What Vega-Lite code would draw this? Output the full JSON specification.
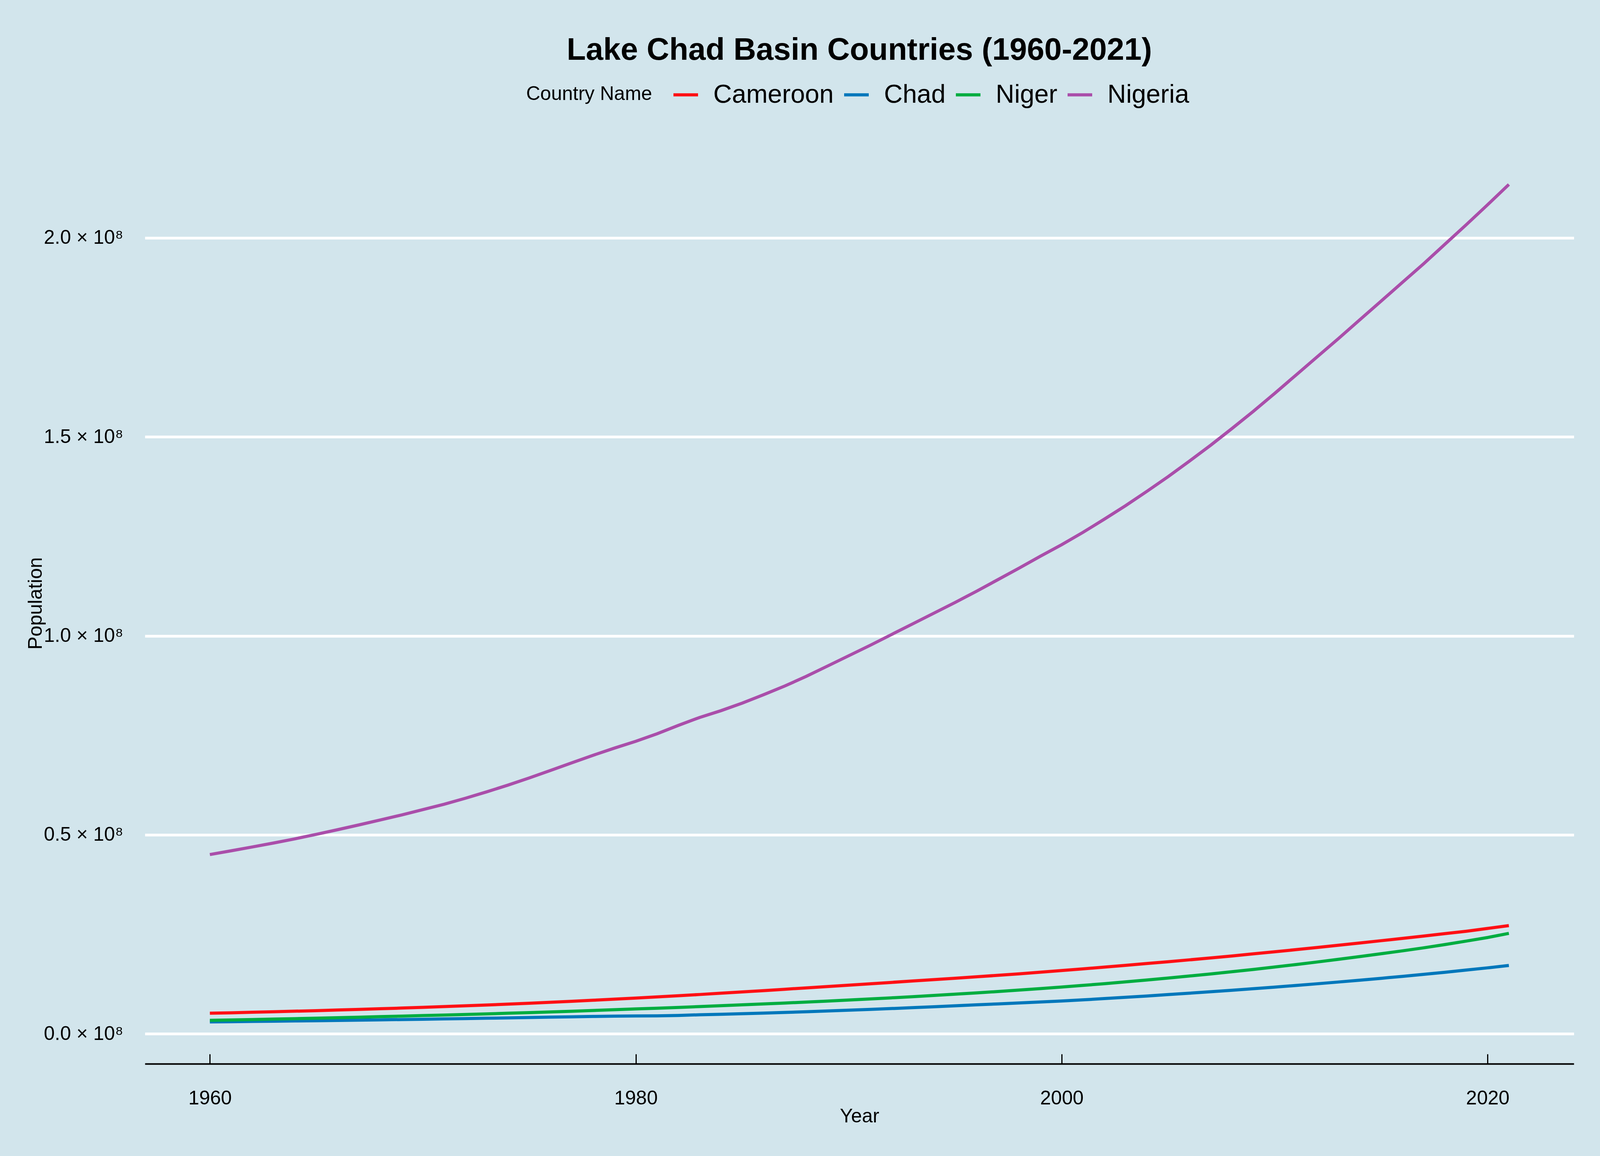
{
  "$schema": "https://vega.github.io/schema/vega-lite/v6.json",
  "width": 3658,
  "height": 2358,
  "autosize": {"type": "none"},
  "padding": {"left": 371, "top": 365, "right": 67, "bottom": 236},
  "background": "#d2e5ec",
  "config": {"view": {"stroke": null}, "font": "Liberation Sans"},
  "title": {"text": "Lake Chad Basin Countries (1960-2021)", "fontSize": 80, "fontWeight": "bold", "font": "Liberation Sans", "color": "black", "anchor": "middle", "frame": "group", "offset": 37},
  "data": {"values": [
{"Year":1960,"Country":"Cameroon","Population":5180000},{"Year":1961,"Country":"Cameroon","Population":5300000},{"Year":1962,"Country":"Cameroon","Population":5430000},{"Year":1963,"Country":"Cameroon","Population":5560000},{"Year":1964,"Country":"Cameroon","Population":5700000},{"Year":1965,"Country":"Cameroon","Population":5840000},{"Year":1966,"Country":"Cameroon","Population":5990000},{"Year":1967,"Country":"Cameroon","Population":6150000},{"Year":1968,"Country":"Cameroon","Population":6310000},{"Year":1969,"Country":"Cameroon","Population":6480000},
{"Year":1970,"Country":"Cameroon","Population":6660000},{"Year":1971,"Country":"Cameroon","Population":6850000},{"Year":1972,"Country":"Cameroon","Population":7050000},{"Year":1973,"Country":"Cameroon","Population":7260000},{"Year":1974,"Country":"Cameroon","Population":7470000},{"Year":1975,"Country":"Cameroon","Population":7700000},{"Year":1976,"Country":"Cameroon","Population":7940000},{"Year":1977,"Country":"Cameroon","Population":8190000},{"Year":1978,"Country":"Cameroon","Population":8450000},{"Year":1979,"Country":"Cameroon","Population":8720000},
{"Year":1980,"Country":"Cameroon","Population":8990000},{"Year":1981,"Country":"Cameroon","Population":9280000},{"Year":1982,"Country":"Cameroon","Population":9580000},{"Year":1983,"Country":"Cameroon","Population":9890000},{"Year":1984,"Country":"Cameroon","Population":10210000},{"Year":1985,"Country":"Cameroon","Population":10540000},{"Year":1986,"Country":"Cameroon","Population":10870000},{"Year":1987,"Country":"Cameroon","Population":11210000},{"Year":1988,"Country":"Cameroon","Population":11550000},{"Year":1989,"Country":"Cameroon","Population":11890000},
{"Year":1990,"Country":"Cameroon","Population":12240000},{"Year":1991,"Country":"Cameroon","Population":12580000},{"Year":1992,"Country":"Cameroon","Population":12930000},{"Year":1993,"Country":"Cameroon","Population":13280000},{"Year":1994,"Country":"Cameroon","Population":13630000},{"Year":1995,"Country":"Cameroon","Population":13980000},{"Year":1996,"Country":"Cameroon","Population":14340000},{"Year":1997,"Country":"Cameroon","Population":14710000},{"Year":1998,"Country":"Cameroon","Population":15090000},{"Year":1999,"Country":"Cameroon","Population":15490000},
{"Year":2000,"Country":"Cameroon","Population":15910000},{"Year":2001,"Country":"Cameroon","Population":16330000},{"Year":2002,"Country":"Cameroon","Population":16770000},{"Year":2003,"Country":"Cameroon","Population":17220000},{"Year":2004,"Country":"Cameroon","Population":17670000},{"Year":2005,"Country":"Cameroon","Population":18130000},{"Year":2006,"Country":"Cameroon","Population":18600000},{"Year":2007,"Country":"Cameroon","Population":19080000},{"Year":2008,"Country":"Cameroon","Population":19580000},{"Year":2009,"Country":"Cameroon","Population":20100000},
{"Year":2010,"Country":"Cameroon","Population":20620000},{"Year":2011,"Country":"Cameroon","Population":21160000},{"Year":2012,"Country":"Cameroon","Population":21710000},{"Year":2013,"Country":"Cameroon","Population":22270000},{"Year":2014,"Country":"Cameroon","Population":22840000},{"Year":2015,"Country":"Cameroon","Population":23410000},{"Year":2016,"Country":"Cameroon","Population":23980000},{"Year":2017,"Country":"Cameroon","Population":24570000},{"Year":2018,"Country":"Cameroon","Population":25180000},{"Year":2019,"Country":"Cameroon","Population":25780000},
{"Year":2020,"Country":"Cameroon","Population":26490000},{"Year":2021,"Country":"Cameroon","Population":27200000},
{"Year":1960,"Country":"Chad","Population":3000000},{"Year":1961,"Country":"Chad","Population":3060000},{"Year":1962,"Country":"Chad","Population":3120000},{"Year":1963,"Country":"Chad","Population":3180000},{"Year":1964,"Country":"Chad","Population":3250000},{"Year":1965,"Country":"Chad","Population":3310000},{"Year":1966,"Country":"Chad","Population":3380000},{"Year":1967,"Country":"Chad","Population":3450000},{"Year":1968,"Country":"Chad","Population":3520000},{"Year":1969,"Country":"Chad","Population":3600000},
{"Year":1970,"Country":"Chad","Population":3680000},{"Year":1971,"Country":"Chad","Population":3760000},{"Year":1972,"Country":"Chad","Population":3840000},{"Year":1973,"Country":"Chad","Population":3930000},{"Year":1974,"Country":"Chad","Population":4020000},{"Year":1975,"Country":"Chad","Population":4110000},{"Year":1976,"Country":"Chad","Population":4200000},{"Year":1977,"Country":"Chad","Population":4290000},{"Year":1978,"Country":"Chad","Population":4380000},{"Year":1979,"Country":"Chad","Population":4460000},
{"Year":1980,"Country":"Chad","Population":4510000},{"Year":1981,"Country":"Chad","Population":4520000},{"Year":1982,"Country":"Chad","Population":4620000},{"Year":1983,"Country":"Chad","Population":4800000},{"Year":1984,"Country":"Chad","Population":4930000},{"Year":1985,"Country":"Chad","Population":5070000},{"Year":1986,"Country":"Chad","Population":5220000},{"Year":1987,"Country":"Chad","Population":5380000},{"Year":1988,"Country":"Chad","Population":5550000},{"Year":1989,"Country":"Chad","Population":5750000},
{"Year":1990,"Country":"Chad","Population":5960000},{"Year":1991,"Country":"Chad","Population":6150000},{"Year":1992,"Country":"Chad","Population":6360000},{"Year":1993,"Country":"Chad","Population":6590000},{"Year":1994,"Country":"Chad","Population":6820000},{"Year":1995,"Country":"Chad","Population":7050000},{"Year":1996,"Country":"Chad","Population":7290000},{"Year":1997,"Country":"Chad","Population":7530000},{"Year":1998,"Country":"Chad","Population":7770000},{"Year":1999,"Country":"Chad","Population":8010000},
{"Year":2000,"Country":"Chad","Population":8260000},{"Year":2001,"Country":"Chad","Population":8550000},{"Year":2002,"Country":"Chad","Population":8860000},{"Year":2003,"Country":"Chad","Population":9180000},{"Year":2004,"Country":"Chad","Population":9520000},{"Year":2005,"Country":"Chad","Population":9870000},{"Year":2006,"Country":"Chad","Population":10220000},{"Year":2007,"Country":"Chad","Population":10580000},{"Year":2008,"Country":"Chad","Population":10960000},{"Year":2009,"Country":"Chad","Population":11350000},
{"Year":2010,"Country":"Chad","Population":11750000},{"Year":2011,"Country":"Chad","Population":12160000},{"Year":2012,"Country":"Chad","Population":12590000},{"Year":2013,"Country":"Chad","Population":13030000},{"Year":2014,"Country":"Chad","Population":13490000},{"Year":2015,"Country":"Chad","Population":13960000},{"Year":2016,"Country":"Chad","Population":14450000},{"Year":2017,"Country":"Chad","Population":14960000},{"Year":2018,"Country":"Chad","Population":15480000},{"Year":2019,"Country":"Chad","Population":16030000},
{"Year":2020,"Country":"Chad","Population":16590000},{"Year":2021,"Country":"Chad","Population":17180000},
{"Year":1960,"Country":"Niger","Population":3390000},{"Year":1961,"Country":"Niger","Population":3490000},{"Year":1962,"Country":"Niger","Population":3600000},{"Year":1963,"Country":"Niger","Population":3710000},{"Year":1964,"Country":"Niger","Population":3820000},{"Year":1965,"Country":"Niger","Population":3940000},{"Year":1966,"Country":"Niger","Population":4060000},{"Year":1967,"Country":"Niger","Population":4190000},{"Year":1968,"Country":"Niger","Population":4320000},{"Year":1969,"Country":"Niger","Population":4450000},
{"Year":1970,"Country":"Niger","Population":4590000},{"Year":1971,"Country":"Niger","Population":4730000},{"Year":1972,"Country":"Niger","Population":4870000},{"Year":1973,"Country":"Niger","Population":5020000},{"Year":1974,"Country":"Niger","Population":5180000},{"Year":1975,"Country":"Niger","Population":5340000},{"Year":1976,"Country":"Niger","Population":5510000},{"Year":1977,"Country":"Niger","Population":5690000},{"Year":1978,"Country":"Niger","Population":5880000},{"Year":1979,"Country":"Niger","Population":6070000},
{"Year":1980,"Country":"Niger","Population":6270000},{"Year":1981,"Country":"Niger","Population":6450000},{"Year":1982,"Country":"Niger","Population":6650000},{"Year":1983,"Country":"Niger","Population":6860000},{"Year":1984,"Country":"Niger","Population":7070000},{"Year":1985,"Country":"Niger","Population":7290000},{"Year":1986,"Country":"Niger","Population":7520000},{"Year":1987,"Country":"Niger","Population":7750000},{"Year":1988,"Country":"Niger","Population":7990000},{"Year":1989,"Country":"Niger","Population":8240000},
{"Year":1990,"Country":"Niger","Population":8500000},{"Year":1991,"Country":"Niger","Population":8770000},{"Year":1992,"Country":"Niger","Population":9050000},{"Year":1993,"Country":"Niger","Population":9340000},{"Year":1994,"Country":"Niger","Population":9650000},{"Year":1995,"Country":"Niger","Population":9970000},{"Year":1996,"Country":"Niger","Population":10300000},{"Year":1997,"Country":"Niger","Population":10640000},{"Year":1998,"Country":"Niger","Population":11000000},{"Year":1999,"Country":"Niger","Population":11380000},
{"Year":2000,"Country":"Niger","Population":11770000},{"Year":2001,"Country":"Niger","Population":12180000},{"Year":2002,"Country":"Niger","Population":12610000},{"Year":2003,"Country":"Niger","Population":13060000},{"Year":2004,"Country":"Niger","Population":13530000},{"Year":2005,"Country":"Niger","Population":14020000},{"Year":2006,"Country":"Niger","Population":14530000},{"Year":2007,"Country":"Niger","Population":15060000},{"Year":2008,"Country":"Niger","Population":15610000},{"Year":2009,"Country":"Niger","Population":16190000},
{"Year":2010,"Country":"Niger","Population":16790000},{"Year":2011,"Country":"Niger","Population":17410000},{"Year":2012,"Country":"Niger","Population":18060000},{"Year":2013,"Country":"Niger","Population":18730000},{"Year":2014,"Country":"Niger","Population":19420000},{"Year":2015,"Country":"Niger","Population":20130000},{"Year":2016,"Country":"Niger","Population":20860000},{"Year":2017,"Country":"Niger","Population":21620000},{"Year":2018,"Country":"Niger","Population":22440000},{"Year":2019,"Country":"Niger","Population":23310000},
{"Year":2020,"Country":"Niger","Population":24210000},{"Year":2021,"Country":"Niger","Population":25250000},
{"Year":1960,"Country":"Nigeria","Population":45050000},{"Year":1961,"Country":"Nigeria","Population":46000000},{"Year":1962,"Country":"Nigeria","Population":46960000},{"Year":1963,"Country":"Nigeria","Population":47960000},{"Year":1964,"Country":"Nigeria","Population":49010000},{"Year":1965,"Country":"Nigeria","Population":50130000},{"Year":1966,"Country":"Nigeria","Population":51300000},{"Year":1967,"Country":"Nigeria","Population":52500000},{"Year":1968,"Country":"Nigeria","Population":53740000},{"Year":1969,"Country":"Nigeria","Population":55000000},
{"Year":1970,"Country":"Nigeria","Population":56330000},{"Year":1971,"Country":"Nigeria","Population":57700000},{"Year":1972,"Country":"Nigeria","Population":59200000},{"Year":1973,"Country":"Nigeria","Population":60800000},{"Year":1974,"Country":"Nigeria","Population":62500000},{"Year":1975,"Country":"Nigeria","Population":64300000},{"Year":1976,"Country":"Nigeria","Population":66200000},{"Year":1977,"Country":"Nigeria","Population":68100000},{"Year":1978,"Country":"Nigeria","Population":70000000},{"Year":1979,"Country":"Nigeria","Population":71800000},
{"Year":1980,"Country":"Nigeria","Population":73500000},{"Year":1981,"Country":"Nigeria","Population":75400000},{"Year":1982,"Country":"Nigeria","Population":77500000},{"Year":1983,"Country":"Nigeria","Population":79500000},{"Year":1984,"Country":"Nigeria","Population":81200000},{"Year":1985,"Country":"Nigeria","Population":83100000},{"Year":1986,"Country":"Nigeria","Population":85200000},{"Year":1987,"Country":"Nigeria","Population":87400000},{"Year":1988,"Country":"Nigeria","Population":89800000},{"Year":1989,"Country":"Nigeria","Population":92400000},
{"Year":1990,"Country":"Nigeria","Population":95000000},{"Year":1991,"Country":"Nigeria","Population":97600000},{"Year":1992,"Country":"Nigeria","Population":100300000},{"Year":1993,"Country":"Nigeria","Population":103000000},{"Year":1994,"Country":"Nigeria","Population":105700000},{"Year":1995,"Country":"Nigeria","Population":108400000},{"Year":1996,"Country":"Nigeria","Population":111200000},{"Year":1997,"Country":"Nigeria","Population":114100000},{"Year":1998,"Country":"Nigeria","Population":117000000},{"Year":1999,"Country":"Nigeria","Population":120000000},
{"Year":2000,"Country":"Nigeria","Population":122900000},{"Year":2001,"Country":"Nigeria","Population":126000000},{"Year":2002,"Country":"Nigeria","Population":129300000},{"Year":2003,"Country":"Nigeria","Population":132700000},{"Year":2004,"Country":"Nigeria","Population":136300000},{"Year":2005,"Country":"Nigeria","Population":140000000},{"Year":2006,"Country":"Nigeria","Population":143900000},{"Year":2007,"Country":"Nigeria","Population":147900000},{"Year":2008,"Country":"Nigeria","Population":152100000},{"Year":2009,"Country":"Nigeria","Population":156400000},
{"Year":2010,"Country":"Nigeria","Population":160900000},{"Year":2011,"Country":"Nigeria","Population":165500000},{"Year":2012,"Country":"Nigeria","Population":170100000},{"Year":2013,"Country":"Nigeria","Population":174700000},{"Year":2014,"Country":"Nigeria","Population":179400000},{"Year":2015,"Country":"Nigeria","Population":184100000},{"Year":2016,"Country":"Nigeria","Population":188800000},{"Year":2017,"Country":"Nigeria","Population":193500000},{"Year":2018,"Country":"Nigeria","Population":198400000},{"Year":2019,"Country":"Nigeria","Population":203300000},
{"Year":2020,"Country":"Nigeria","Population":208300000},{"Year":2021,"Country":"Nigeria","Population":213400000}
  ]},
  "mark": {"type": "line", "strokeWidth": 8, "strokeCap": "butt"},
  "encoding": {
    "x": {"field": "Year", "type": "quantitative",
      "scale": {"domain": [1956.95, 2024.05], "nice": false, "zero": false},
      "axis": {"values": [1960, 1980, 2000, 2020], "format": "d", "title": "Year", "grid": false,
        "domain": true, "domainColor": "black", "domainWidth": 4,
        "ticks": true, "tickColor": "black", "tickWidth": 3, "tickSize": -25,
        "labelPadding": 88, "labelFontSize": 50, "labelColor": "black", "labelFont": "Liberation Sans", "labelLimit": 0,
        "titleFontSize": 50, "titleFontWeight": "normal", "titleColor": "black", "titleFont": "Liberation Sans", "titlePadding": -4}},
    "y": {"field": "Population", "type": "quantitative",
      "scale": {"domain": [-7520000, 223920000], "nice": false, "zero": false},
      "axis": {"values": [0, 50000000, 100000000, 150000000, 200000000],
        "labelExpr": "format(datum.value / 1e8, '.1f') + ' × 10⁸'",
        "title": "Population", "domain": false, "ticks": false,
        "grid": true, "gridColor": "white", "gridWidth": 7,
        "labelPadding": 56, "labelFontSize": 50, "labelColor": "black", "labelFont": "Liberation Sans", "labelLimit": 0,
        "titleFontSize": 50, "titleFontWeight": "normal", "titleColor": "black", "titleFont": "Liberation Sans",
        "titleX": -280, "titleY": 1179, "titleAngle": -90, "titleAlign": "center", "titleBaseline": "middle"}},
    "color": {"field": "Country", "type": "nominal",
      "scale": {"domain": ["Cameroon", "Chad", "Niger", "Nigeria"], "range": ["#ff1014", "#0077bb", "#00ad40", "#aa4eaa"]},
      "legend": {"title": "Country Name", "orient": "none", "legendX": 976, "legendY": -158, "direction": "horizontal",
        "titleOrient": "left", "titleFontSize": 50, "titleFontWeight": "normal", "titleColor": "black", "titleFont": "Liberation Sans", "titleLimit": 0,
        "titlePadding": 50, "titleAnchor": "middle", "titleBaseline": "middle",
        "labelFontSize": 66, "labelColor": "black", "labelFont": "Liberation Sans", "labelLimit": 0,
        "symbolType": "stroke", "symbolStrokeWidth": 8, "symbolSize": 3969, "labelOffset": 35, "columnPadding": 10}}
  }
}
